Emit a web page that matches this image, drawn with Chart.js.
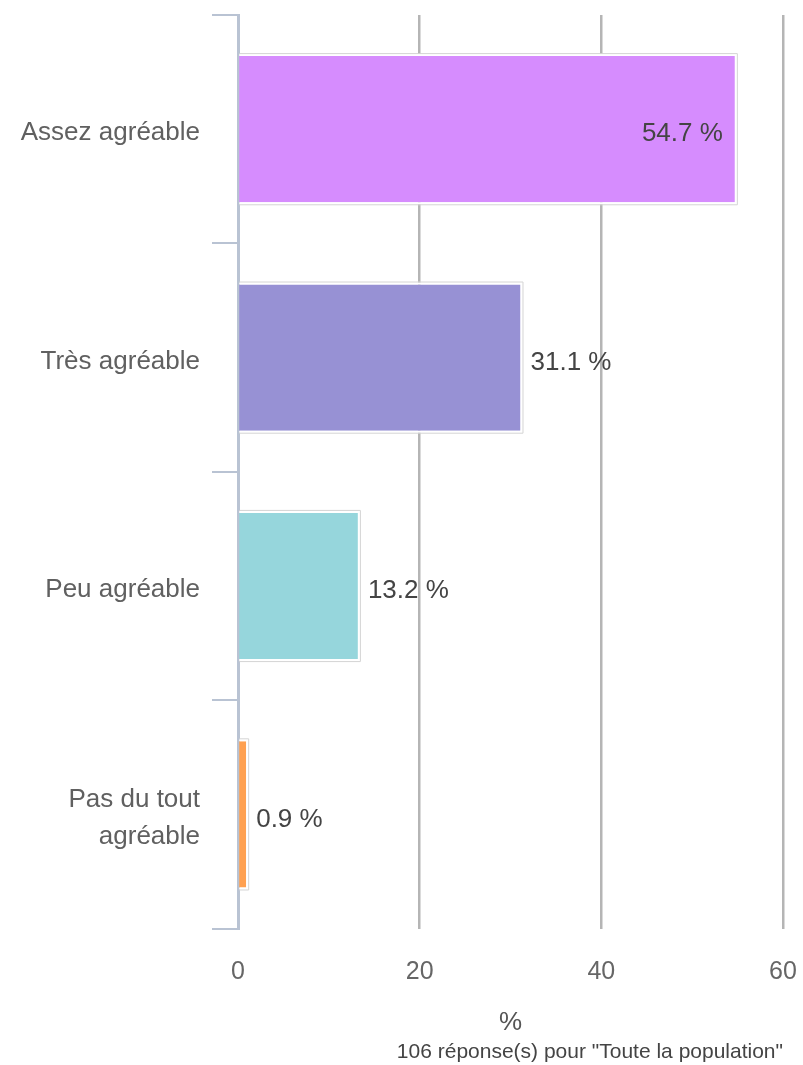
<!DOCTYPE html>
<html>
<head>
<meta charset="utf-8">
<script src="https://cdn.jsdelivr.net/npm/chart.js@4"></script>
<style>
  html, body { margin: 0; padding: 0; background: #ffffff; }
  #wrap { width: 803px; height: 1065px; position: relative; }
</style>
</head>
<body>
<div id="wrap"><canvas id="c"></canvas></div>
<script>
const categories = ['Assez agréable', 'Très agréable', 'Peu agréable', ['Pas du tout', 'agréable']];
const values = [54.7, 31.1, 13.2, 0.9];
const barColors = ['#d68cfe', '#9791d4', '#96d6dc', '#ffa050'];
const xMin = 0, xMax = 60, xStep = 20;
const axisTitle = '%';
const footnote = '106 réponse(s) pour "Toute la population"';

const FONT = "'Liberation Sans', Arial, Helvetica, sans-serif";

const barDecor = {
  id: 'barDecor',
  afterDatasetsDraw(chart) {
    const ctx = chart.ctx;
    const meta = chart.getDatasetMeta(0);
    const area = chart.chartArea;
    ctx.save();
    meta.data.forEach((bar, i) => {
      const p = bar.getProps(['x', 'y', 'base', 'height'], true);
      const top = p.y - p.height / 2, bottom = p.y + p.height / 2;
      const drawOutline = (o, color, w) => {
        ctx.beginPath();
        ctx.strokeStyle = color;
        ctx.lineWidth = w;
        ctx.moveTo(p.base, top - o);
        ctx.lineTo(p.x + o, top - o);
        ctx.lineTo(p.x + o, bottom + o);
        ctx.lineTo(p.base, bottom + o);
        ctx.stroke();
      };
      drawOutline(1, '#ffffff', 2);
      drawOutline(2.5, '#d4d4d4', 1);
      // value label
      const v = values[i];
      const txt = v.toFixed(1) + ' %';
      ctx.font = '26px ' + FONT;
      ctx.fillStyle = '#444444';
      ctx.textBaseline = 'middle';
      const w = ctx.measureText(txt).width;
      if (p.x + 10 + w > area.right) {
        ctx.textAlign = 'right';
        ctx.fillText(txt, p.x - 12, p.y + 5);
      } else {
        ctx.textAlign = 'left';
        ctx.fillText(txt, p.x + 10, p.y + 5);
      }
    });
    ctx.restore();
  }
};

new Chart(document.getElementById('c'), {
  type: 'bar',
  data: {
    labels: categories,
    datasets: [{
      data: values,
      backgroundColor: barColors,
      borderWidth: 0,
      categoryPercentage: 0.8,
      barPercentage: 0.8
    }]
  },
  plugins: [barDecor],
  options: {
    indexAxis: 'y',
    responsive: true,
    maintainAspectRatio: false,
    animation: false,
    layout: { padding: { top: 15, right: 20, bottom: 0, left: 0 } },
    plugins: {
      legend: { display: false },
      tooltip: { enabled: false },
      title: {
        display: true,
        text: footnote,
        position: 'bottom',
        align: 'end',
        color: '#444444',
        font: { family: FONT, size: 21, weight: 'normal' },
        padding: { top: 0, bottom: 0 }
      }
    },
    scales: {
      x: {
        min: xMin,
        max: xMax,
        ticks: {
          stepSize: xStep,
          padding: 0,
          color: '#666666',
          font: { family: FONT, size: 25 }
        },
        grid: {
          drawTicks: true,
          tickLength: 29,
          tickColor: 'rgba(0,0,0,0)',
          lineWidth: 2.5,
          color: (ctx) => (ctx.tick && ctx.tick.value === 0) ? 'rgba(0,0,0,0)' : '#b5b5b5'
        },
        border: { display: false },
        title: {
          display: true,
          text: axisTitle,
          color: '#555555',
          font: { family: FONT, size: 26 },
          padding: { top: 20, bottom: 1 }
        }
      },
      y: {
        z: 1,
        afterFit: (scale) => {
          scale.width = 238;
          scale.paddingTop = 0;
          scale.paddingBottom = 0;
        },
        ticks: {
          color: '#606060',
          padding: 12,
          labelOffset: 4,
          font: { family: FONT, size: 26, lineHeight: 1.4 }
        },
        grid: {
          offset: true,
          drawOnChartArea: false,
          drawTicks: true,
          tickLength: 26,
          lineWidth: 2,
          color: '#b9c3d3',
          tickColor: '#b9c3d3'
        },
        border: { display: true, color: '#b9c3d3', width: 3 }
      }
    }
  }
});
</script>
</body>
</html>
